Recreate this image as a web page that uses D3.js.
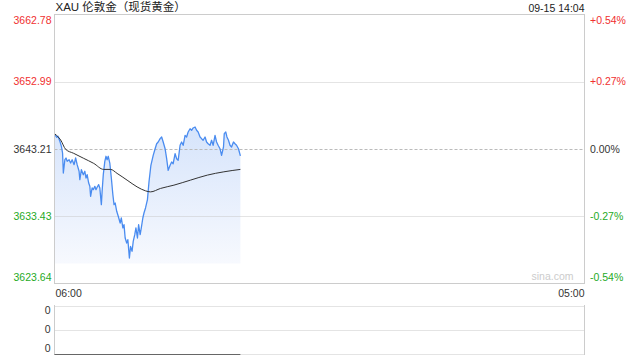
<!DOCTYPE html>
<html><head><meta charset="utf-8">
<script src="https://cdn.jsdelivr.net/npm/d3@7"></script>
<style>
html,body{margin:0;padding:0;background:#fff;}
svg{display:block;font-family:Arial,"Liberation Sans","Noto Sans CJK SC",sans-serif;}
</style></head>
<body><svg id="c" width="640" height="360"></svg>
<script>
// ---- data ----
const title = "XAU 伦敦金（现货黄金）";
const stamp = "09-15 14:04";
const sessionMinutes = [0, 1380];            // 06:00 -> 05:00 next day
const timeTickLabels = ["06:00", "05:00"];
const priceTicks = [3662.78, 3652.99, 3643.21, 3633.43, 3623.64];
const pctTicks = ["+0.54%", "+0.27%", "0.00%", "-0.27%", "-0.54%"];
const volTickLabels = ["0", "0", "0"];
// minutes after 06:00
const priceMinutes = [1,6,9,14,18,21,23,27,30,33,38,42,46,51,55,59,64,66,70,75,79,82,85,89,92,94,98,101,105,108,111,115,118,122,124,127,131,134,137,140,144,148,152,155,158,162,166,171,174,178,181,184,188,191,195,198,202,205,209,212,216,219,223,226,230,233,237,242,246,251,257,262,266,270,275,279,283,288,292,296,301,305,309,314,318,322,327,331,335,340,344,348,353,357,361,366,370,374,379,383,387,392,396,400,405,409,413,418,422,426,431,435,440,442,446,449,453,457,461,466,470,474,479,484];
const prices = [3645.29,3644.91,3645.06,3644.33,3643.60,3642.63,3639.72,3641.65,3641.90,3641.42,3641.65,3641.17,3641.65,3640.93,3641.90,3640.93,3639.97,3638.74,3640.20,3639.47,3639.97,3638.99,3639.47,3638.26,3637.78,3636.33,3637.54,3637.29,3637.78,3637.29,3637.64,3638.02,3637.54,3635.11,3637.06,3639.47,3641.42,3642.15,3641.65,3642.15,3641.17,3638.99,3636.56,3635.11,3635.35,3634.15,3633.42,3632.44,3633.17,3631.72,3632.20,3630.26,3629.53,3630.01,3627.35,3629.05,3628.33,3629.78,3630.74,3631.72,3630.26,3632.20,3630.74,3631.72,3633.17,3633.90,3634.63,3635.83,3638.41,3640.84,3642.29,3643.25,3643.98,3644.23,3644.71,3644.96,3644.23,3643.25,3641.80,3640.11,3640.84,3641.32,3641.07,3642.53,3641.80,3641.57,3643.75,3644.23,3643.75,3645.20,3644.96,3645.68,3646.16,3645.93,3646.27,3646.41,3645.93,3645.68,3644.96,3644.71,3644.48,3644.96,3644.23,3643.98,3643.75,3644.48,3643.75,3645.20,3644.23,3643.75,3643.25,3642.29,3643.50,3645.44,3645.68,3644.96,3644.48,3643.75,3643.50,3644.23,3643.98,3643.75,3643.25,3642.20];
const avgMinutes = [1,16,29,50,76,102,128,146,163,189,215,237,250,276,311,354,398,441,484];
const avgPrices = [3645.40,3644.52,3643.17,3642.58,3641.85,3641.12,3640.24,3640.24,3639.66,3638.68,3637.70,3637.12,3636.97,3637.47,3637.95,3638.68,3639.41,3639.89,3640.24];
const volMinutes = [0, 484];
const volumes = [0, 0];

// ---- layout ----
const L = 54.5, R = 584.5, T = 14.5, B = 283.5;
const VT = 305, VB = 354;
const RED = "#f03030", GREEN = "#1faa1f", DARK = "#333";
const svg = d3.select("#c");

const x = d3.scaleLinear().domain(sessionMinutes).range([L, R]);
const y = d3.scaleLinear().domain([priceTicks[4], priceTicks[0]]).range([B, T]);
const yv = d3.scaleLinear().domain([0, 1]).range([VB, VT]);

// gradient
const defs = svg.append("defs");
const g = defs.append("linearGradient").attr("id", "fillg")
  .attr("gradientUnits", "userSpaceOnUse").attr("x1", 0).attr("x2", 0)
  .attr("y1", y(d3.max(prices))).attr("y2", B - 20);
g.append("stop").attr("offset", 0).attr("stop-color", "#d6e4fb");
g.append("stop").attr("offset", 1).attr("stop-color", "#f7f9fe");

// area
const pts = priceMinutes.map((m, i) => [m, prices[i]]);
svg.append("path").datum(pts)
  .attr("fill", "url(#fillg)")
  .attr("d", d3.area().x(d => x(d[0])).y0(B - 20).y1(d => y(d[1])));

// gridlines
priceTicks.slice(1, 4).forEach((v, i) => {
  svg.append("line").attr("x1", L).attr("x2", R).attr("y1", Math.round(y(v)) + 0.5).attr("y2", Math.round(y(v)) + 0.5)
    .attr("stroke", i === 1 ? "#bbb" : "#c8c8c8").attr("stroke-width", 1)
    .attr("stroke-dasharray", i === 1 ? "3,2" : "1,1");
});

// price line
svg.append("path").datum(pts).attr("fill", "none").attr("stroke", "#4a8cf0")
  .attr("stroke-width", 1.3).attr("stroke-linejoin", "round")
  .attr("d", d3.line().x(d => x(d[0])).y(d => y(d[1])));
// average line
svg.append("path").datum(avgMinutes.map((m, i) => [m, avgPrices[i]]))
  .attr("fill", "none").attr("stroke", DARK).attr("stroke-width", 1)
  .attr("d", d3.line().curve(d3.curveMonotoneX).x(d => x(d[0])).y(d => y(d[1])));

// frame
svg.append("rect").attr("x", L).attr("y", T).attr("width", R - L).attr("height", B - T)
  .attr("fill", "none").attr("stroke", "#ccc");

// labels
const fs = "10.5px";
priceTicks.forEach((v, i) => {
  let yy = y(v);
  if (i === 0) yy += 5.5; else if (i === 4) yy -= 6.5;
  const col = i < 2 ? RED : (i === 2 ? DARK : GREEN);
  svg.append("text").attr("x", L - 3).attr("y", yy).attr("dy", "0.35em")
    .attr("text-anchor", "end").attr("font-size", fs).attr("fill", col).text(d3.format(".2f")(v));
  svg.append("text").attr("x", R + 5.5).attr("y", yy).attr("dy", "0.35em")
    .attr("text-anchor", "start").attr("font-size", fs).attr("fill", col).text(pctTicks[i]);
});
svg.append("text").attr("x", R - 11).attr("y", B - 4).attr("text-anchor", "end")
  .attr("font-size", "10.5px").attr("fill", "#ccc").text("sina.com");

// time labels
svg.append("text").attr("x", x(sessionMinutes[0]) + 1).attr("y", B + 10).attr("dy", "0.35em")
  .attr("font-size", fs).attr("fill", DARK).text(timeTickLabels[0]);
svg.append("text").attr("x", x(sessionMinutes[1])).attr("y", B + 10).attr("dy", "0.35em")
  .attr("text-anchor", "end").attr("font-size", fs).attr("fill", DARK).text(timeTickLabels[1]);

// title + stamp
svg.append("text").attr("x", L + 1).attr("y", 7).attr("dy", "0.35em")
  .attr("font-size", "11.5px").attr("fill", "#222").text(title);
svg.append("text").attr("x", R).attr("y", 8).attr("dy", "0.35em").attr("text-anchor", "end")
  .attr("font-size", fs).attr("fill", "#222").text(stamp);

// volume panel
[VT + 0.5, (VT + VB) / 2, VB].forEach(yy => {
  svg.append("line").attr("x1", L).attr("x2", R).attr("y1", Math.round(yy) + 0.5).attr("y2", Math.round(yy) + 0.5)
    .attr("stroke", "#c8c8c8").attr("stroke-dasharray", "1,1");
});
svg.append("line").attr("x1", L).attr("x2", L).attr("y1", VT).attr("y2", VB + 1).attr("stroke", "#ccc");
svg.append("line").attr("x1", R).attr("x2", R).attr("y1", VT).attr("y2", VB + 1).attr("stroke", "#ccc");
svg.append("path").datum(volMinutes.map((m, i) => [m, volumes[i]]))
  .attr("fill", "none").attr("stroke", "#666").attr("stroke-width", 1)
  .attr("d", d3.line().x(d => x(d[0])).y(d => Math.round(yv(d[1])) + 0.5));
const volLabelY = [VT + 5.5, (VT + VB) / 2, VB - 6];
volTickLabels.forEach((t, i) => {
  svg.append("text").attr("x", L - 4).attr("y", volLabelY[i]).attr("dy", "0.35em")
    .attr("text-anchor", "end").attr("font-size", fs).attr("fill", DARK).text(t);
});
</script></body></html>
